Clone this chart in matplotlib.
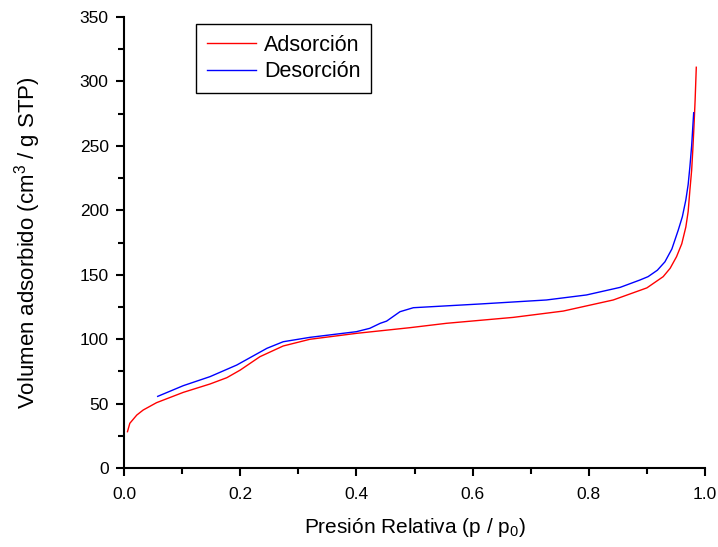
import matplotlib
matplotlib.use("Agg")
import matplotlib.pyplot as plt
from matplotlib.ticker import MultipleLocator, FormatStrFormatter

plt.rcParams['font.family'] = ['Liberation Sans', 'DejaVu Sans']
plt.rcParams['mathtext.fontset'] = 'custom'
plt.rcParams['mathtext.rm'] = 'Liberation Sans'
plt.rcParams['mathtext.it'] = 'Liberation Sans'

# isoterma de adsorcion
p_ads = [0.006, 0.010, 0.022, 0.033, 0.056, 0.102, 0.148, 0.177, 0.200, 0.234,
         0.274, 0.320, 0.400, 0.492, 0.555, 0.670, 0.756, 0.842, 0.900, 0.928,
         0.940, 0.951, 0.960, 0.967, 0.971, 0.974, 0.977, 0.979, 0.981, 0.983, 0.985]
v_ads = [28.2, 34.7, 41.1, 45.0, 50.7, 58.7, 65.2, 70.1, 76.0, 86.4,
         94.7, 99.9, 104.5, 108.9, 112.3, 116.9, 121.8, 130.4, 139.8, 148.5,
         155.0, 164.0, 174.0, 187.0, 199.0, 215.7, 231.0, 246.8, 265.0, 285.6, 311.0]

# rama de desorcion
p_des = [0.058, 0.102, 0.148, 0.194, 0.246, 0.274, 0.320, 0.400, 0.423, 0.441,
         0.452, 0.475, 0.498, 0.613, 0.727, 0.796, 0.854, 0.888, 0.902, 0.918,
         0.931, 0.943, 0.954, 0.961, 0.967, 0.971, 0.974, 0.977, 0.9805]
v_des = [55.6, 63.9, 70.9, 79.9, 92.9, 98.0, 101.4, 105.8, 108.4, 112.3,
         114.0, 121.3, 124.4, 127.3, 130.4, 134.3, 140.2, 145.9, 148.5, 153.5,
         160.0, 170.0, 184.7, 195.0, 208.0, 220.0, 233.8, 250.0, 275.7]

fig = plt.figure(figsize=(7.18, 5.47), dpi=100)
ax = fig.add_axes([0.1727, 0.1444, 0.8092, 0.8245])

ax.plot(p_ads, v_ads, color='#ff0000', lw=1.0, label='Adsorción')
ax.plot(p_des, v_des, color='#0000ff', lw=1.0, label='Desorción')

ax.set_xlim(0, 1.0)
ax.set_ylim(0, 350)
ax.xaxis.set_major_locator(MultipleLocator(0.2))
ax.xaxis.set_minor_locator(MultipleLocator(0.1))
ax.yaxis.set_major_locator(MultipleLocator(50))
ax.yaxis.set_minor_locator(MultipleLocator(25))
ax.xaxis.set_major_formatter(FormatStrFormatter('%.1f'))

for s in ['top', 'right']:
    ax.spines[s].set_visible(False)
for s in ['left', 'bottom']:
    ax.spines[s].set_linewidth(1.5)

ax.tick_params(which='major', direction='out', length=6, width=1.5,
               labelsize=12.5)
ax.tick_params(which='minor', direction='out', length=4, width=1.5)
ax.tick_params(axis='x', which='major', pad=8)
ax.tick_params(axis='y', which='major', pad=5)

ax.set_xlabel('Presión Relativa (p / p$_{0}$)', fontsize=15, labelpad=10)
ax.set_ylabel('Volumen adsorbido (cm$^3$ / g STP)', fontsize=16, labelpad=26)

leg = ax.legend(loc='upper left', bbox_to_anchor=(0.124, 0.9845), fontsize=15.5,
                fancybox=False, edgecolor='black', framealpha=1,
                handlelength=2.3, handletextpad=0.35, borderpad=0.5,
                labelspacing=0.25, borderaxespad=0)
leg.get_frame().set_linewidth(1.0)

fig.savefig('out.png', dpi=100)
